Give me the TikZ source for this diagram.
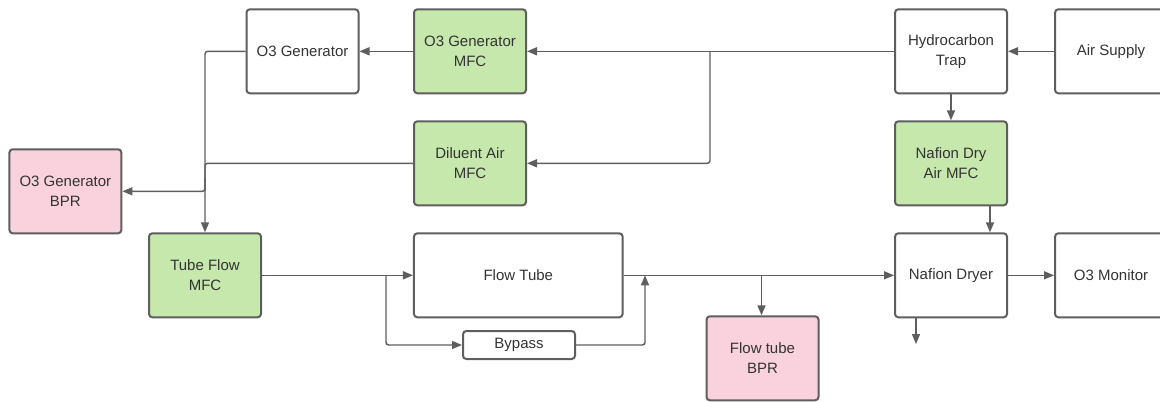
\documentclass[tikz,border=0pt]{standalone}
\usepackage{fontspec}
\setmainfont{Liberation Sans}
\usetikzlibrary{arrows.meta}
\definecolor{lnc}{HTML}{5E5E5E}
\definecolor{txc}{HTML}{333333}
\definecolor{grn}{HTML}{C7E8AC}
\definecolor{pnk}{HTML}{F9D2DE}
\tikzset{
  blk/.style={draw=lnc, line width=1.5pt, rounded corners=2.5pt, text=txc,
    minimum width=84pt, minimum height=63pt, inner sep=0pt, align=center,
    font=\fontsize{11.25}{15}\selectfont},
  gbox/.style={blk, fill=grn},
  pbox/.style={blk, fill=pnk},
  conn/.style={draw=lnc, line width=1.1pt, rounded corners=2pt},
  arr/.style={conn, -{Triangle[length=7.5pt,width=6pt]}},
}
\begin{document}
\begin{tikzpicture}[x=0.75pt,y=-0.75pt]
\useasboundingbox (0,0) rectangle (1160,401);
\clip (0,0) rectangle (1160,401);
% nodes
\node[blk]  (gen)    at (302.5,51.3) {O3 Generator};
\node[gbox] (genmfc) at (470,51.3)   {O3 Generator\\MFC};
\node[blk]  (trap)   at (951,51.3)   {Hydrocarbon\\Trap};
\node[blk]  (air)    at (1111,51.3)  {Air Supply};
\node[pbox] (bpr)    at (65.4,191.3) {O3 Generator\\BPR};
\node[gbox] (dil)    at (470,163.3)  {Diluent Air\\MFC};
\node[gbox] (dry)    at (951,163.3)  {Nafion Dry\\Air MFC};
\node[gbox] (tfm)    at (205,275.3)  {Tube Flow\\MFC};
\node[blk, minimum width=156.5pt] (ftube) at (518.3,275.3) {Flow Tube};
\node[blk, minimum height=21pt] (bypass) at (519,345) {Bypass};
\node[pbox] (ftbpr)  at (762.5,358.3) {Flow tube\\BPR};
\node[blk]  (dryer)  at (951,275.3)  {Nafion Dryer};
\node[blk]  (mon)    at (1111,275.3) {O3 Monitor};
% junction coordinates
\coordinate (j1) at (710,51.3);
\coordinate (j2) at (205,191.3);
\coordinate (j3) at (205,178);
\coordinate (j4) at (386,275.3);
\coordinate (j5) at (645,275.3);
\coordinate (j6) at (761.5,275.3);
\coordinate (vent) at (916,344);
% connectors
\draw[arr] (air.west) -- (trap.east);
\draw[arr] (trap.west) -- (genmfc.east);
\draw[arr] (j1) |- (dil.east);
\draw[arr] (genmfc.west) -- (gen.east);
\draw[arr] (gen.west) -| (tfm.north);
\draw[conn] (dil.west) -| (j2);
\draw[arr] (j3) |- (bpr.east);
\draw[arr] (tfm.east) -- (ftube.west);
\draw[arr] (j4) |- (bypass.west);
\draw[arr] (bypass.east) -| (j5);
\draw[arr] (ftube.east) -- (dryer.west);
\draw[arr] (j6) -- (j6 |- ftbpr.north);
\draw[arr] (trap.south) -- (dry.north);
\draw[arr] ([xshift=29.25pt]dry.south) -- ([xshift=29.25pt]dryer.north);
\draw[arr] (vent |- dryer.south) -- (vent);
\draw[arr] (dryer.east) -- (mon.west);
\end{tikzpicture}
\end{document}
